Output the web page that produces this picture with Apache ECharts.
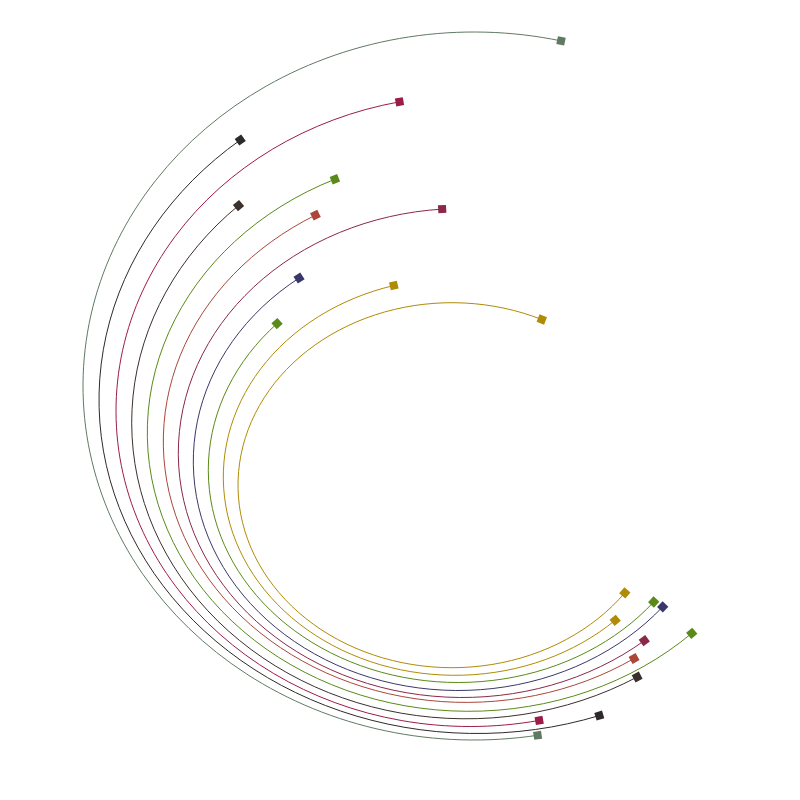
<!DOCTYPE html>
<html>
<head>
<meta charset="utf-8">
<script src="https://cdn.jsdelivr.net/npm/echarts@6/dist/echarts.min.js"></script>
<style>html,body{margin:0;padding:0;background:#fff}#chart{width:800px;height:800px}</style>
</head>
<body>
<div id="chart"></div>
<script>
// Each arc is an elliptical arc (chart units: origin at chart centre, y up).
const arcCentreX = [74, 77, 70, 66, 68.7, 66, 62.3, 58.1, 58, 55, 52];
const arcCentreY = [14, 0, -11, -22.6, -32.6, -41.5, -53, -61.3, -70, -76.9, -85.2];
const arcRadiusX = [391, 378, 354, 334.3, 321.4, 302.7, 284, 264.8, 249.7, 231.7, 214];
const arcRadiusY = [354, 333.5, 315.5, 296.2, 278.7, 260.9, 244.5, 229.2, 212.5, 198.4, 182.5];
// start and end markers of each arc
const arcStart = [[161,359],[-160.7,261],[0,296],[-161,194],[-64.7,220],[-84,184],[42.3,189.3],[-100.7,121.7],[-124,77.3],[-5.7,113],[141,79]];
const arcEnd = [[137.7,-335.7],[198.7,-314],[139.3,-321],[238.7,-279.3],[290,-231.7],[234.7,-259.3],[244.3,-240.7],[264,-207.7],[253.3,-201.7],[216,-221],[226.7,-194]];
const arcColors = ['#5f7a63','#2e2a29','#9c1c47','#3b302b','#5a8a19','#ab4639','#8a2848','#3a386a','#5a8a19','#b08c05','#b08c05'];

function renderArc(params, api) {
  const cx = api.value(0), cy = api.value(1), rx = api.value(2), ry = api.value(3);
  const sx = api.value(4), sy = api.value(5), ex = api.value(6), ey = api.value(7);
  const c = api.coord([cx, cy]);
  const sz = api.size([rx, ry]);
  const rxp = Math.abs(sz[0]), ryp = Math.abs(sz[1]);
  const ts = Math.atan2((sy - cy) / ry, (sx - cx) / rx);
  let te = Math.atan2((ey - cy) / ry, (ex - cx) / rx);
  while (te <= ts) te += Math.PI * 2;
  const pt = t => [c[0] + rxp * Math.cos(t), c[1] - ryp * Math.sin(t)];
  const tan = t => [-rxp * Math.sin(t), -ryp * Math.cos(t)];
  const n = Math.ceil((te - ts) / (Math.PI / 8));
  const h = (te - ts) / n;
  const k = 4 / 3 * Math.tan(h / 4);
  const f = v => v.toFixed(2);
  let p = pt(ts);
  let d = 'M' + f(p[0]) + ' ' + f(p[1]);
  for (let i = 0; i < n; i++) {
    const t1 = ts + h * i, t2 = t1 + h;
    const a = pt(t1), b = pt(t2), da = tan(t1), db = tan(t2);
    d += ' C' + f(a[0] + k * da[0]) + ' ' + f(a[1] + k * da[1]) + ' '
       + f(b[0] - k * db[0]) + ' ' + f(b[1] - k * db[1]) + ' '
       + f(b[0]) + ' ' + f(b[1]);
  }
  const color = api.visual('color');
  const marker = t => {
    const q = pt(t);
    const rot = Math.atan2(ryp * Math.cos(t), -rxp * Math.sin(t));
    return {
      type: 'rect',
      x: q[0], y: q[1], rotation: rot,
      shape: { x: -4, y: -4, width: 8, height: 8 },
      style: { fill: color }
    };
  };
  return {
    type: 'group',
    children: [
      { type: 'path', shape: { pathData: d }, style: { fill: 'none', stroke: color, lineWidth: 1 } },
      marker(ts),
      marker(te)
    ]
  };
}

const series = arcColors.map((col, k) => ({
  type: 'custom',
  name: 'arc' + (k + 1),
  coordinateSystem: 'cartesian2d',
  renderItem: renderArc,
  clip: false,
  silent: true,
  itemStyle: { color: col },
  encode: { x: 0, y: 1 },
  data: [[arcCentreX[k], arcCentreY[k], arcRadiusX[k], arcRadiusY[k], arcStart[k][0], arcStart[k][1], arcEnd[k][0], arcEnd[k][1]]]
}));

const chart = echarts.init(document.getElementById('chart'), null, { renderer: 'canvas' });
chart.setOption({
  animation: false,
  backgroundColor: '#ffffff',
  grid: { left: 0, right: 0, top: 0, bottom: 0 },
  xAxis: { type: 'value', min: -400, max: 400, show: false },
  yAxis: { type: 'value', min: -400, max: 400, show: false },
  series: series
});
</script>
</body>
</html>
